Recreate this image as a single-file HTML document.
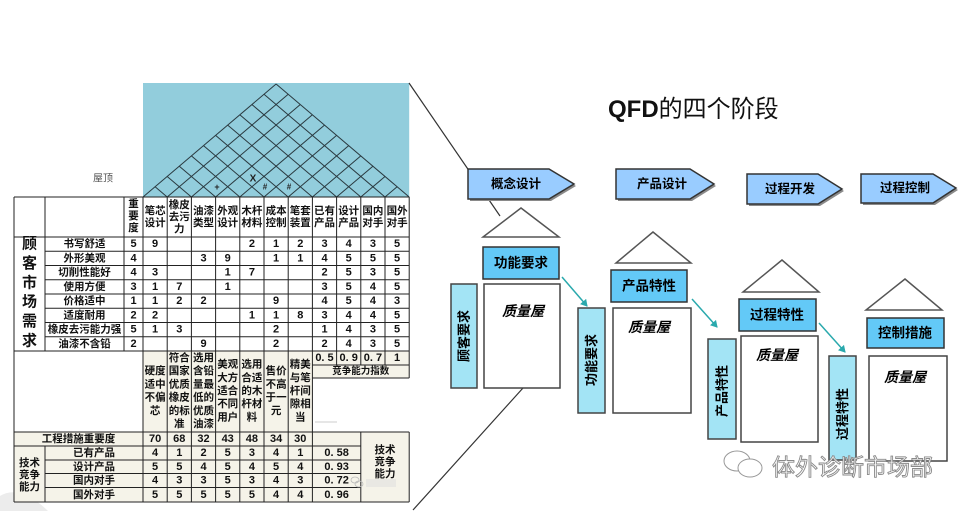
<!DOCTYPE html>
<html><head><meta charset="utf-8"><style>
html,body{margin:0;padding:0;background:#fff;width:969px;height:511px;overflow:hidden}
svg{display:block;overflow:hidden}
text{font-family:"Liberation Sans","Noto Sans CJK SC",sans-serif}
</style></head><body>
<svg width="969" height="511" viewBox="0 0 969 511" xmlns="http://www.w3.org/2000/svg">
<defs>
<marker id="ah" markerWidth="8" markerHeight="8" refX="6" refY="4" orient="auto" markerUnits="userSpaceOnUse">
<path d="M0,0 L7,4 L0,8 z" fill="#2aa9ad"/></marker>
</defs>
<path d="M0,511 L0,496 Q20,484 48,511 Z" fill="#ececec"/>

<!-- ROOF -->
<rect x="143" y="83" width="266.2" height="114" fill="#92cddc"/>
<g stroke="#2a3a40" stroke-width="1" fill="none">
<line x1="143" y1="197" x2="276.1" y2="84"/>
<line x1="409.2" y1="197" x2="276.1" y2="84"/>
<line x1="167.2" y1="197" x2="288.2" y2="94.3"/><line x1="167.2" y1="197" x2="155.1" y2="186.7"/>
<line x1="191.4" y1="197" x2="300.3" y2="104.5"/><line x1="191.4" y1="197" x2="167.2" y2="176.5"/>
<line x1="215.6" y1="197" x2="312.4" y2="114.8"/><line x1="215.6" y1="197" x2="179.3" y2="166.2"/>
<line x1="239.8" y1="197" x2="324.5" y2="125.1"/><line x1="239.8" y1="197" x2="191.4" y2="155.9"/>
<line x1="264" y1="197" x2="336.6" y2="135.4"/><line x1="264" y1="197" x2="203.5" y2="145.6"/>
<line x1="288.2" y1="197" x2="348.7" y2="145.6"/><line x1="288.2" y1="197" x2="215.6" y2="135.4"/>
<line x1="312.4" y1="197" x2="360.8" y2="155.9"/><line x1="312.4" y1="197" x2="227.7" y2="125.1"/>
<line x1="336.6" y1="197" x2="372.9" y2="166.2"/><line x1="336.6" y1="197" x2="239.8" y2="114.8"/>
<line x1="360.8" y1="197" x2="385" y2="176.5"/><line x1="360.8" y1="197" x2="251.9" y2="104.5"/>
<line x1="385" y1="197" x2="397.1" y2="186.7"/><line x1="385" y1="197" x2="264" y2="94.3"/>
</g>
<g font-weight="bold" fill="#222" text-anchor="middle" dominant-baseline="central">
<text x="217" y="187" font-size="9">+</text>
<text x="253" y="179" font-size="10">X</text>
<text x="265" y="187" font-size="8">#</text>
<text x="289" y="187" font-size="8">#</text>
</g>
<text x="103" y="179" font-size="10" fill="#555" text-anchor="middle" dominant-baseline="central">屋顶</text>

<!-- TABLE BACKGROUNDS -->
<rect x="143" y="351" width="169.4" height="81" fill="#f5f3e9"/>
<rect x="312.4" y="351" width="96.8" height="27" fill="#f5f3e9"/>
<rect x="14" y="432" width="395.2" height="70" fill="#f5f3e9"/>

<!-- TABLE LINES -->
<g stroke="#222" stroke-width="1" fill="none">
<line x1="14" y1="197" x2="409.2" y2="197"/>
<line x1="14" y1="237" x2="409.2" y2="237"/>
<line x1="45" y1="251.25" x2="409.2" y2="251.25"/>
<line x1="45" y1="265.5" x2="409.2" y2="265.5"/>
<line x1="45" y1="279.75" x2="409.2" y2="279.75"/>
<line x1="45" y1="294" x2="409.2" y2="294"/>
<line x1="45" y1="308.25" x2="409.2" y2="308.25"/>
<line x1="45" y1="322.5" x2="409.2" y2="322.5"/>
<line x1="45" y1="336.75" x2="409.2" y2="336.75"/>
<line x1="14" y1="351" x2="409.2" y2="351"/>
<line x1="312.4" y1="365" x2="409.2" y2="365"/>
<line x1="312.4" y1="378" x2="409.2" y2="378"/>
<line x1="14" y1="432" x2="409.2" y2="432"/>
<line x1="14" y1="446" x2="360.8" y2="446"/>
<line x1="45" y1="460" x2="360.8" y2="460"/>
<line x1="45" y1="473.5" x2="360.8" y2="473.5"/>
<line x1="45" y1="487.5" x2="360.8" y2="487.5"/>
<line x1="14" y1="502" x2="409.2" y2="502"/>
<line x1="14" y1="197" x2="14" y2="502"/>
<line x1="45" y1="197" x2="45" y2="351"/><line x1="45" y1="446" x2="45" y2="502"/>
<line x1="124" y1="197" x2="124" y2="351"/>
<line x1="143" y1="197" x2="143" y2="502"/>
<line x1="167.2" y1="197" x2="167.2" y2="502"/>
<line x1="191.4" y1="197" x2="191.4" y2="502"/>
<line x1="215.6" y1="197" x2="215.6" y2="502"/>
<line x1="239.8" y1="197" x2="239.8" y2="502"/>
<line x1="264" y1="197" x2="264" y2="502"/>
<line x1="288.2" y1="197" x2="288.2" y2="502"/>
<line x1="312.4" y1="197" x2="312.4" y2="502"/>
<line x1="336.6" y1="197" x2="336.6" y2="365"/>
<line x1="360.8" y1="197" x2="360.8" y2="365"/><line x1="360.8" y1="432" x2="360.8" y2="502"/>
<line x1="385" y1="197" x2="385" y2="365"/>
<line x1="409.2" y1="197" x2="409.2" y2="378"/><line x1="409.2" y1="432" x2="409.2" y2="502"/>
</g>
<line x1="315" y1="422" x2="337" y2="422" stroke="#ccc" stroke-width="1"/>

<!-- HEADER TEXT -->
<g font-size="10.5" font-weight="bold" fill="#111" text-anchor="middle" dominant-baseline="central">
<text x="133.5" y="204">重</text><text x="133.5" y="216">要</text><text x="133.5" y="228">度</text>
<text x="155.1" y="211">笔芯</text><text x="155.1" y="223">设计</text>
<text x="179.3" y="205">橡皮</text><text x="179.3" y="217">去污</text><text x="179.3" y="229">力</text>
<text x="203.5" y="211">油漆</text><text x="203.5" y="223">类型</text>
<text x="227.7" y="211">外观</text><text x="227.7" y="223">设计</text>
<text x="251.9" y="211">木杆</text><text x="251.9" y="223">材料</text>
<text x="276.1" y="211">成本</text><text x="276.1" y="223">控制</text>
<text x="300.3" y="211">笔套</text><text x="300.3" y="223">装置</text>
<text x="324.5" y="211">已有</text><text x="324.5" y="223">产品</text>
<text x="348.7" y="211">设计</text><text x="348.7" y="223">产品</text>
<text x="372.9" y="211">国内</text><text x="372.9" y="223">对手</text>
<text x="397.1" y="211">国外</text><text x="397.1" y="223">对手</text>
</g>

<!-- 顾客市场需求 -->
<g font-size="15" font-weight="bold" fill="#111" text-anchor="middle" dominant-baseline="central">
<text x="29.5" y="244">顾</text><text x="29.5" y="263.4">客</text><text x="29.5" y="282.8">市</text>
<text x="29.5" y="302.2">场</text><text x="29.5" y="321.6">需</text><text x="29.5" y="341">求</text>
</g>

<!-- DATA ROWS -->
<g font-size="10.5" font-weight="bold" fill="#111" text-anchor="middle" dominant-baseline="central">
<text x="84.5" y="244.1">书写舒适</text>
<text x="84.5" y="258.4">外形美观</text>
<text x="84.5" y="272.6">切削性能好</text>
<text x="84.5" y="286.9">使用方便</text>
<text x="84.5" y="301.1">价格适中</text>
<text x="84.5" y="315.4">适度耐用</text>
<text x="84.5" y="329.6">橡皮去污能力强</text>
<text x="84.5" y="343.9">油漆不含铅</text>
</g>
<g font-size="11" font-weight="bold" fill="#111" text-anchor="middle" dominant-baseline="central">
<text x="133.5" y="244.1">5</text><text x="155.1" y="244.1">9</text><text x="251.9" y="244.1">2</text><text x="276.1" y="244.1">1</text><text x="300.3" y="244.1">2</text><text x="324.5" y="244.1">3</text><text x="348.7" y="244.1">4</text><text x="372.9" y="244.1">3</text><text x="397.1" y="244.1">5</text>
<text x="133.5" y="258.4">4</text><text x="203.5" y="258.4">3</text><text x="227.7" y="258.4">9</text><text x="276.1" y="258.4">1</text><text x="300.3" y="258.4">1</text><text x="324.5" y="258.4">4</text><text x="348.7" y="258.4">5</text><text x="372.9" y="258.4">5</text><text x="397.1" y="258.4">5</text>
<text x="133.5" y="272.6">4</text><text x="155.1" y="272.6">3</text><text x="227.7" y="272.6">1</text><text x="251.9" y="272.6">7</text><text x="324.5" y="272.6">2</text><text x="348.7" y="272.6">5</text><text x="372.9" y="272.6">3</text><text x="397.1" y="272.6">5</text>
<text x="133.5" y="286.9">3</text><text x="155.1" y="286.9">1</text><text x="179.3" y="286.9">7</text><text x="227.7" y="286.9">1</text><text x="324.5" y="286.9">3</text><text x="348.7" y="286.9">5</text><text x="372.9" y="286.9">4</text><text x="397.1" y="286.9">5</text>
<text x="133.5" y="301.1">1</text><text x="155.1" y="301.1">1</text><text x="179.3" y="301.1">2</text><text x="203.5" y="301.1">2</text><text x="276.1" y="301.1">9</text><text x="324.5" y="301.1">4</text><text x="348.7" y="301.1">5</text><text x="372.9" y="301.1">4</text><text x="397.1" y="301.1">3</text>
<text x="133.5" y="315.4">2</text><text x="155.1" y="315.4">2</text><text x="251.9" y="315.4">1</text><text x="276.1" y="315.4">1</text><text x="300.3" y="315.4">8</text><text x="324.5" y="315.4">3</text><text x="348.7" y="315.4">4</text><text x="372.9" y="315.4">4</text><text x="397.1" y="315.4">5</text>
<text x="133.5" y="329.6">5</text><text x="155.1" y="329.6">1</text><text x="179.3" y="329.6">3</text><text x="276.1" y="329.6">2</text><text x="324.5" y="329.6">1</text><text x="348.7" y="329.6">4</text><text x="372.9" y="329.6">3</text><text x="397.1" y="329.6">5</text>
<text x="133.5" y="343.9">2</text><text x="203.5" y="343.9">9</text><text x="276.1" y="343.9">2</text><text x="324.5" y="343.9">2</text><text x="348.7" y="343.9">4</text><text x="372.9" y="343.9">3</text><text x="397.1" y="343.9">5</text>
<text x="324.5" y="358">0. 5</text><text x="348.7" y="358">0. 9</text><text x="372.9" y="358">0. 7</text><text x="397.1" y="358">1</text>
</g>
<text x="360.8" y="371.5" font-size="9.5" font-weight="bold" fill="#111" text-anchor="middle" dominant-baseline="central">竞争能力指数</text>

<!-- DESCRIPTIONS -->
<g font-size="10.5" font-weight="bold" fill="#111" text-anchor="middle" dominant-baseline="central">
<text x="155.1" y="371.2">硬度</text><text x="155.1" y="384.4">适中</text><text x="155.1" y="397.6">不偏</text><text x="155.1" y="410.8">芯</text>
<text x="179.3" y="358">符合</text><text x="179.3" y="371.2">国家</text><text x="179.3" y="384.4">优质</text><text x="179.3" y="397.6">橡皮</text><text x="179.3" y="410.8">的标</text><text x="179.3" y="424">准</text>
<text x="203.5" y="358">选用</text><text x="203.5" y="371.2">含铅</text><text x="203.5" y="384.4">量最</text><text x="203.5" y="397.6">低的</text><text x="203.5" y="410.8">优质</text><text x="203.5" y="424">油漆</text>
<text x="227.7" y="364.6">美观</text><text x="227.7" y="377.8">大方</text><text x="227.7" y="391">适合</text><text x="227.7" y="404.2">不同</text><text x="227.7" y="417.4">用户</text>
<text x="251.9" y="364.6">选用</text><text x="251.9" y="377.8">合适</text><text x="251.9" y="391">的木</text><text x="251.9" y="404.2">杆材</text><text x="251.9" y="417.4">料</text>
<text x="276.1" y="371.2">售价</text><text x="276.1" y="384.4">不高</text><text x="276.1" y="397.6">于一</text><text x="276.1" y="410.8">元</text>
<text x="300.3" y="364.6">精美</text><text x="300.3" y="377.8">与笔</text><text x="300.3" y="391">杆间</text><text x="300.3" y="404.2">隙相</text><text x="300.3" y="417.4">当</text>
</g>

<!-- BOTTOM ROWS -->
<g font-size="10.5" font-weight="bold" fill="#111" text-anchor="middle" dominant-baseline="central">
<text x="78.5" y="439">工程措施重要度</text>
<text x="94" y="453">已有产品</text>
<text x="94" y="466.8">设计产品</text>
<text x="94" y="480.5">国内对手</text>
<text x="94" y="494.8">国外对手</text>
<text x="29.5" y="463">技术</text><text x="29.5" y="475">竞争</text><text x="29.5" y="487">能力</text>
<text x="385" y="450">技术</text><text x="385" y="462">竞争</text><text x="385" y="474">能力</text>
</g>
<g font-size="11" font-weight="bold" fill="#111" text-anchor="middle" dominant-baseline="central">
<text x="155.1" y="439">70</text><text x="179.3" y="439">68</text><text x="203.5" y="439">32</text><text x="227.7" y="439">43</text><text x="251.9" y="439">48</text><text x="276.1" y="439">34</text><text x="300.3" y="439">30</text>
<text x="155.1" y="453">4</text><text x="179.3" y="453">1</text><text x="203.5" y="453">2</text><text x="227.7" y="453">5</text><text x="251.9" y="453">3</text><text x="276.1" y="453">4</text><text x="300.3" y="453">1</text><text x="336.6" y="453">0. 58</text>
<text x="155.1" y="466.8">5</text><text x="179.3" y="466.8">5</text><text x="203.5" y="466.8">4</text><text x="227.7" y="466.8">5</text><text x="251.9" y="466.8">4</text><text x="276.1" y="466.8">5</text><text x="300.3" y="466.8">4</text><text x="336.6" y="466.8">0. 93</text>
<text x="155.1" y="480.5">4</text><text x="179.3" y="480.5">3</text><text x="203.5" y="480.5">3</text><text x="227.7" y="480.5">5</text><text x="251.9" y="480.5">3</text><text x="276.1" y="480.5">4</text><text x="300.3" y="480.5">3</text><text x="336.6" y="480.5">0. 72</text>
<text x="155.1" y="494.8">5</text><text x="179.3" y="494.8">5</text><text x="203.5" y="494.8">5</text><text x="227.7" y="494.8">5</text><text x="251.9" y="494.8">5</text><text x="276.1" y="494.8">4</text><text x="300.3" y="494.8">4</text><text x="336.6" y="494.8">0. 96</text>
</g>
<g fill="none" stroke="#bbb" stroke-width="0.8"><ellipse cx="355" cy="480" rx="4" ry="3"/><ellipse cx="359" cy="484" rx="4" ry="3"/></g>
<rect x="366" y="479" width="30" height="8" fill="#ddd" opacity="0.5"/>

<!-- DIAGONAL CONNECTORS -->
<line x1="409" y1="83" x2="500" y2="216" stroke="#333" stroke-width="1.2"/>
<line x1="523" y1="388" x2="413" y2="510" stroke="#333" stroke-width="1.2"/>

<!-- TITLE -->
<text x="608" y="117" font-size="24" fill="#111"><tspan font-weight="bold">QFD</tspan>的四个阶段</text>

<!-- PHASE ARROWS -->
<g fill="#8a8a8a">
<polygon points="470,171 551,171 576,186 551,201 470,201"/>
<polygon points="618,171 692,171 716,186 692,201 618,201"/>
<polygon points="749,176 820,176 844,191 820,206 749,206"/>
<polygon points="863,176 935,176 958,190 935,205 863,205"/>
</g>
<g fill="#99ccff" stroke="#333" stroke-width="1.5">
<polygon points="468,169 549,169 574,184 549,199 468,199"/>
<polygon points="616,169 690,169 714,184 690,199 616,199"/>
<polygon points="747,174 818,174 842,189 818,204 747,204"/>
<polygon points="861,174 933,174 956,188 933,203 861,203"/>
</g>
<g font-size="12.5" font-weight="bold" fill="#000" text-anchor="middle" dominant-baseline="central">
<text x="516" y="184">概念设计</text>
<text x="662" y="184">产品设计</text>
<text x="790" y="189">过程开发</text>
<text x="905" y="188">过程控制</text>
</g>

<!-- ROOF TRIANGLES -->
<g fill="#fff" stroke="#555" stroke-width="1.5">
<polygon points="521,208 483,237 559,237"/>
<polygon points="653,232 616,263 691,263"/>
<polygon points="782,260 743,292 819,292"/>
<polygon points="905,279 866,310 942,310"/>
</g>

<!-- TOP BOXES -->
<g fill="#63c9f7" stroke="#333" stroke-width="1.5">
<rect x="483" y="247" width="76" height="32"/>
<rect x="611" y="270" width="76" height="32"/>
<rect x="739" y="299" width="77" height="32"/>
<rect x="867" y="318" width="77" height="30"/>
</g>
<g font-size="13.5" font-weight="bold" fill="#000" text-anchor="middle" dominant-baseline="central">
<text x="521" y="263">功能要求</text>
<text x="649" y="286">产品特性</text>
<text x="777" y="315">过程特性</text>
<text x="905" y="333">控制措施</text>
</g>

<!-- QUALITY HOUSES -->
<g fill="#fff" stroke="#444" stroke-width="1.5">
<rect x="484" y="284" width="76" height="104"/>
<rect x="613" y="308" width="78" height="105"/>
<rect x="741" y="336" width="77" height="106"/>
<rect x="869" y="356" width="78" height="105"/>
</g>
<g font-size="14" font-weight="bold" font-style="italic" fill="#000" text-anchor="middle" dominant-baseline="central">
<text x="523" y="311">质量屋</text>
<text x="649" y="327">质量屋</text>
<text x="777" y="355">质量屋</text>
<text x="905" y="377">质量屋</text>
</g>

<!-- VERTICAL BOXES -->
<g fill="#a3e4f5" stroke="#444" stroke-width="1.5">
<rect x="451" y="284" width="26" height="104"/>
<rect x="578" y="308" width="27" height="105"/>
<rect x="708" y="339" width="28" height="100"/>
<rect x="829" y="356" width="27" height="104"/>
</g>
<g font-size="13" font-weight="bold" fill="#000" text-anchor="middle" dominant-baseline="central">
<text transform="translate(464,336) rotate(-90)">顾客要求</text>
<text transform="translate(591.5,360) rotate(-90)">功能要求</text>
<text transform="translate(722,391) rotate(-90)">产品特性</text>
<text transform="translate(842.5,414) rotate(-90)">过程特性</text>
</g>

<!-- TEAL ARROWS -->
<g stroke="#2aa9ad" stroke-width="1.5" marker-end="url(#ah)">
<line x1="562" y1="277" x2="587" y2="306"/>
<line x1="692" y1="299" x2="717" y2="327"/>
<line x1="819" y1="323" x2="845" y2="352"/>
</g>

<!-- WATERMARK -->
<g fill="#fff" stroke="#999" stroke-width="1">
<ellipse cx="737" cy="461" rx="13" ry="10"/>
<ellipse cx="750" cy="468" rx="12" ry="9"/>
</g>
<text x="772" y="475" font-size="23" fill="#fff" stroke="#8a8a8a" stroke-width="0.9">体外诊断市场部</text>
</svg>
</body></html>
